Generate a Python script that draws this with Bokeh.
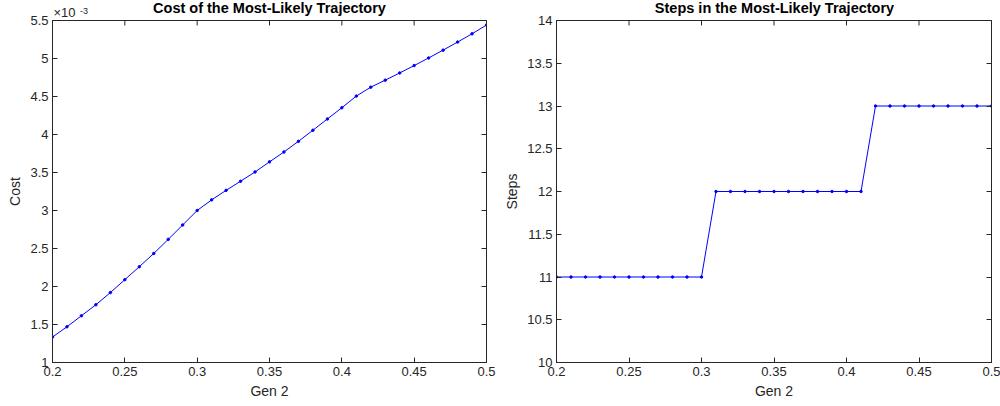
import math
from bokeh.plotting import figure
from bokeh.layouts import row, column
from bokeh.models import LinearAxis, Label, Range1d, CustomJSTickFormatter, FixedTicker
from bokeh.embed import file_html
from bokeh.resources import INLINE

gen2 = [0.20, 0.21, 0.22, 0.23, 0.24, 0.25, 0.26, 0.27, 0.28, 0.29, 0.30,
        0.31, 0.32, 0.33, 0.34, 0.35, 0.36, 0.37, 0.38, 0.39, 0.40,
        0.41, 0.42, 0.43, 0.44, 0.45, 0.46, 0.47, 0.48, 0.49, 0.50]
cost = [1.335e-3, 1.470e-3, 1.615e-3, 1.760e-3, 1.920e-3, 2.090e-3, 2.260e-3, 2.435e-3,
        2.620e-3, 2.810e-3, 3.000e-3, 3.140e-3, 3.265e-3, 3.385e-3, 3.507e-3, 3.640e-3,
        3.770e-3, 3.910e-3, 4.056e-3, 4.204e-3, 4.352e-3, 4.505e-3, 4.623e-3, 4.715e-3,
        4.810e-3, 4.907e-3, 5.007e-3, 5.110e-3, 5.216e-3, 5.325e-3, 5.440e-3]
steps = [11, 11, 11, 11, 11, 11, 11, 11, 11, 11, 11,
         12, 12, 12, 12, 12, 12, 12, 12, 12, 12, 12,
         13, 13, 13, 13, 13, 13, 13, 13, 13]

x_ticks = [0.2, 0.25, 0.3, 0.35, 0.4, 0.45, 0.5]
cost_ticks = [1e-3, 1.5e-3, 2e-3, 2.5e-3, 3e-3, 3.5e-3, 4e-3, 4.5e-3, 5e-3, 5.5e-3]
steps_ticks = [10, 10.5, 11, 11.5, 12, 12.5, 13, 13.5, 14]

title1 = "Cost of the Most-Likely Trajectory"
title2 = "Steps in the Most-Likely Trajectory"

FONT = "Liberation Sans"
AX = "#262626"
BLUE = "#0000ff"
HEAD = 20      # height of the title strip
TOPB = 8       # top border of the plots (room for the top tick label)


def box_axis(ticks):
    return LinearAxis(ticker=FixedTicker(ticks=ticks),
                      formatter=CustomJSTickFormatter(code="return '';"),
                      major_tick_in=5, major_tick_out=0, minor_tick_line_color=None,
                      axis_line_color=AX, major_tick_line_color=AX,
                      major_label_standoff=0)


def header(title, cx):
    h = figure(width=500, height=HEAD, x_range=Range1d(0, 500), y_range=Range1d(0, HEAD),
               output_backend="svg", toolbar_location=None, min_border=0,
               outline_line_color=None, background_fill_color="white",
               border_fill_color="white")
    h.title.visible = False
    h.axis.visible = False
    h.grid.visible = False
    h.add_layout(Label(x=cx, y=5, x_units="screen", y_units="screen", text=title,
                       text_font=FONT, text_font_size="14.5px", text_font_style="bold",
                       text_color="black", text_align="center", text_baseline="bottom"))
    return h


def style(p, xt, yt, yfmt, top):
    p.title.visible = False
    p.grid.visible = False
    p.outline_line_color = AX
    p.outline_line_width = 1
    p.background_fill_color = "white"
    p.border_fill_color = None
    xfmt = CustomJSTickFormatter(code="return String(Math.round(tick*100)/100);")
    for ax in p.xaxis:
        ax.ticker = FixedTicker(ticks=xt)
        ax.formatter = xfmt
    for ax in p.yaxis:
        ax.ticker = FixedTicker(ticks=yt)
        ax.formatter = yfmt
    for ax in p.axis:
        ax.major_tick_in = 5
        ax.major_tick_out = 0
        ax.minor_tick_line_color = None
        ax.axis_line_color = AX
        ax.major_tick_line_color = AX
        ax.major_label_text_font = FONT
        ax.major_label_text_font_size = "13px"
        ax.major_label_text_color = AX
        ax.axis_label_text_font = FONT
        ax.axis_label_text_font_size = "14px"
        ax.axis_label_text_font_style = "normal"
        ax.axis_label_text_color = AX
        ax.major_label_standoff = 4
        ax.axis_label_standoff = 4
    p.add_layout(box_axis(yt), "right")
    # inward tick marks along the top edge of the box (outer half is clipped away)
    p.scatter(xt, [top] * len(xt), marker="dash", angle=math.pi / 2, size=10,
              line_color=AX, line_width=1)


PH = 406 - HEAD + TOPB

yfmt1 = CustomJSTickFormatter(code="return String(Math.round(tick*1e4)/10);")
yr1 = Range1d(1e-3, 5.5e-3)
p1 = figure(width=500, height=PH, x_range=Range1d(0.2, 0.5), y_range=yr1,
            output_backend="svg", toolbar_location=None,
            min_border_left=52, min_border_right=14, min_border_top=TOPB, min_border_bottom=44)
p1.xaxis.axis_label = "Gen 2"
p1.yaxis.axis_label = "Cost"
style(p1, x_ticks, cost_ticks, yfmt1, yr1.end)
p1.line(gen2, cost, line_color=BLUE, line_width=1)
p1.scatter(gen2, cost, size=2.5, fill_color=BLUE, line_color=BLUE)

h1 = header(title1, 269)
h1.add_layout(Label(x=53, y=1, x_units="screen", y_units="screen", text="\u00d710",
                    text_font=FONT, text_font_size="13px", text_color=AX,
                    text_align="left", text_baseline="bottom"))
h1.add_layout(Label(x=79.5, y=7, x_units="screen", y_units="screen", text="-3",
                    text_font=FONT, text_font_size="9px", text_color=AX,
                    text_align="left", text_baseline="bottom"))

yfmt2 = CustomJSTickFormatter(code="return String(Math.round(tick*10)/10);")
yr2 = Range1d(10, 14)
p2 = figure(width=500, height=PH, x_range=Range1d(0.2, 0.5), y_range=yr2,
            output_backend="svg", toolbar_location=None,
            min_border_left=56, min_border_right=9, min_border_top=TOPB, min_border_bottom=44)
p2.xaxis.axis_label = "Gen 2"
p2.yaxis.axis_label = "Steps"
style(p2, x_ticks, steps_ticks, yfmt2, yr2.end)
p2.line(gen2, steps, line_color=BLUE, line_width=1)
p2.scatter(gen2, steps, size=2.5, fill_color=BLUE, line_color=BLUE)

h2 = header(title2, 274)

layout = column(row(h1, h2), row(p1, p2, margin=(-TOPB, 0, 0, 0)))
open("out.html", "w").write(file_html(layout, INLINE))
